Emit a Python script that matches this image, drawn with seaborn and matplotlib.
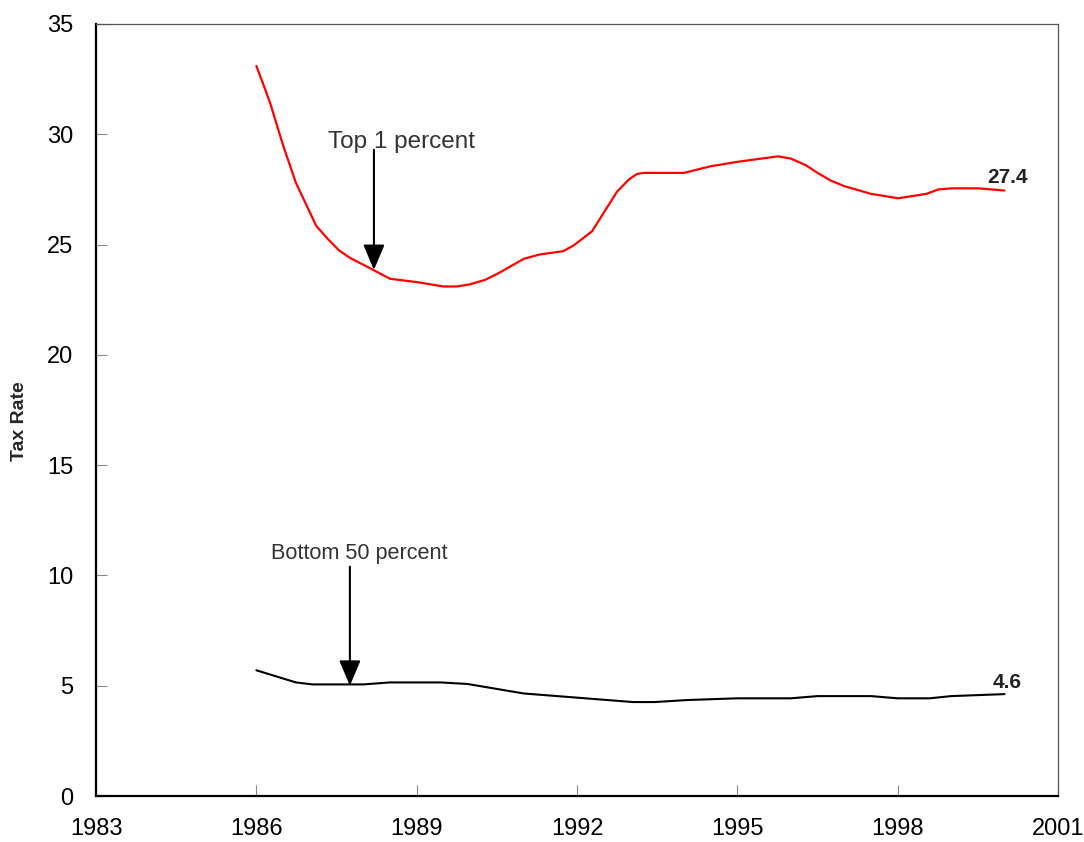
import matplotlib
matplotlib.use("Agg")
import matplotlib.pyplot as plt
import seaborn as sns
import pandas as pd

top_years = [1986.0, 1986.14, 1986.26, 1986.5, 1986.74, 1987.12, 1987.32, 1987.54,
             1987.75, 1988.15, 1988.5, 1989.0, 1989.5, 1989.75, 1990.0, 1990.28,
             1990.53, 1991.0, 1991.3, 1991.74, 1991.93, 1992.28, 1992.75, 1992.97,
             1993.12, 1993.25, 1994.0, 1994.5, 1995.0, 1995.76, 1996.0, 1996.28,
             1996.5, 1996.75, 1997.0, 1997.5, 1998.01, 1998.54, 1998.76, 1999.01,
             1999.51, 2000.0]
top_rates = [33.1, 32.2, 31.4, 29.5, 27.8, 25.85, 25.3, 24.75,
             24.4, 23.9, 23.45, 23.3, 23.1, 23.1, 23.2, 23.4,
             23.7, 24.35, 24.55, 24.7, 24.95, 25.6, 27.4, 27.95,
             28.2, 28.25, 28.25, 28.55, 28.75, 29.0, 28.9, 28.6,
             28.25, 27.9, 27.65, 27.3, 27.1, 27.3, 27.5, 27.55,
             27.55, 27.45]

bottom_years = [1986.0, 1986.74, 1987.05, 1988.0, 1988.5, 1989.45, 1989.95, 1991.0,
                1993.05, 1993.45, 1994.05, 1995.0, 1996.0, 1996.5, 1997.5, 1998.0,
                1998.6, 1999.0, 2000.0]
bottom_rates = [5.7, 5.15, 5.06, 5.06, 5.15, 5.15, 5.08, 4.65,
                4.26, 4.26, 4.35, 4.43, 4.43, 4.53, 4.53, 4.43,
                4.43, 4.53, 4.62]

x_ticks = [1983, 1986, 1989, 1992, 1995, 1998, 2001]
y_ticks = [0, 5, 10, 15, 20, 25, 30, 35]

sns.set_theme(style="white")
plt.rcParams['font.family'] = ['Liberation Sans', 'DejaVu Sans']

fig = plt.figure(figsize=(10.84, 8.42), dpi=100)
ax = fig.add_axes([0.0886, 0.0546, 0.9875 - 0.0886 - 0.0115, 0.9715 - 0.0546])

top_df = pd.DataFrame({"year": top_years, "rate": top_rates})
bot_df = pd.DataFrame({"year": bottom_years, "rate": bottom_rates})
sns.lineplot(data=top_df, x="year", y="rate", ax=ax, color="#ff0000", lw=1.6, sort=False)
sns.lineplot(data=bot_df, x="year", y="rate", ax=ax, color="black", lw=1.5, sort=False)

ax.set_xlim(1983, 2001)
ax.set_ylim(0, 35)
ax.set_xticks(x_ticks)
ax.set_yticks(y_ticks)
ax.tick_params(axis='both', direction='in', length=8, width=0.8, color='#888888',
               labelcolor='black', bottom=True, left=True, top=False, right=False)
ax.tick_params(axis='x', pad=16, labelsize=17)
ax.tick_params(axis='y', pad=16.5, labelsize=17)
ax.set_xlabel("")
ax.set_ylabel("Tax Rate", fontsize=14, fontweight='bold')
ax.yaxis.set_label_coords(-0.071, 0.486)

for s in ['left', 'bottom']:
    ax.spines[s].set_color('black')
    ax.spines[s].set_linewidth(1.6)
for s in ['top', 'right']:
    ax.spines[s].set_color('#555555')
    ax.spines[s].set_linewidth(0.9)

arrowprops = dict(arrowstyle='-|>,head_width=0.55,head_length=1.3', color='black', lw=1.5,
                  shrinkA=0, shrinkB=0)
ax.annotate("", xy=(1988.2, 23.85), xytext=(1988.2, 29.3), arrowprops=arrowprops)
ax.text(1988.71, 29.37, "Top 1 percent", fontsize=17.5, color='#333333', ha='center', va='baseline')

ax.annotate("", xy=(1987.75, 5.0), xytext=(1987.75, 10.4), arrowprops=arrowprops)
ax.text(1987.92, 10.73, "Bottom 50 percent", fontsize=15.6, color='#333333', ha='center', va='baseline')

ax.text(2000.05, 27.77, "27.4", fontsize=15, fontweight='bold', color='#222222',
        ha='center', va='baseline')
ax.text(2000.05, 4.88, "4.6", fontsize=15, fontweight='bold', color='#222222',
        ha='center', va='baseline')

fig.savefig("out.png", dpi=100)
